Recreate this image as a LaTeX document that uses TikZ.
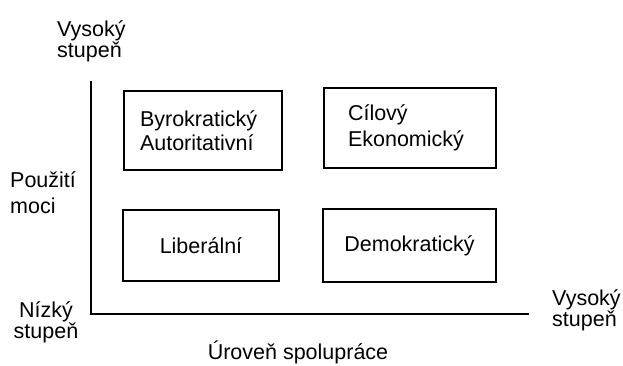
\documentclass[tikz,border=0pt]{standalone}
\usepackage{fontspec}
\setmainfont{Liberation Sans}
\usetikzlibrary{positioning}

\tikzset{
  quadbox/.style={draw, line width=1.1pt, inner sep=0pt, font=\fontsize{21.5}{24}\selectfont},
  axislabel/.style={inner sep=0pt, font=\fontsize{21.5}{20}\selectfont}
}

\begin{document}
\begin{tikzpicture}[x=1pt,y=-1pt]
\useasboundingbox (0,0) rectangle (623,365);
% axes
\coordinate (O) at (91,314);
\coordinate (ytop) at (91,81);
\coordinate (xend) at (529,314);
\draw[line width=1.1pt] (ytop) -- (O) -- (xend);
% quadrants
\node[quadbox, minimum width=158, minimum height=79, text width=126, align=left] (byro) at (203,130.5) {Byrokratický\\Autoritativní};
\node[quadbox, minimum width=172, minimum height=80, text width=124, align=left] (cil) at (410,128) {Cílový\\[2pt]Ekonomický};
\node[quadbox, minimum width=156, minimum height=71] (lib) at (201,245.5) {Liberální};
\node[quadbox, minimum width=173, minimum height=73] (demo) at (409.5,245.5) {Demokratický};
% axis labels
\node[axislabel, anchor=west, align=left] (vyska) at (57,41) {Vysoký\\stupeň};
\node[axislabel, anchor=west, align=left, font=\fontsize{21.5}{26}\selectfont] (moc) at (10,193) {Použití\\moci};
\node[axislabel, align=center, font=\fontsize{21.5}{18}\selectfont] (nizky) at (46,322) {Nízký\\stupeň};
\node[axislabel, anchor=west, align=left, font=\fontsize{21.5}{19}\selectfont] (vysokyx) at (552,310) {Vysoký\\stupeň};
\node[axislabel, anchor=base] (spoluprace) at (298,359) {Úroveň spolupráce};
\end{tikzpicture}
\end{document}
